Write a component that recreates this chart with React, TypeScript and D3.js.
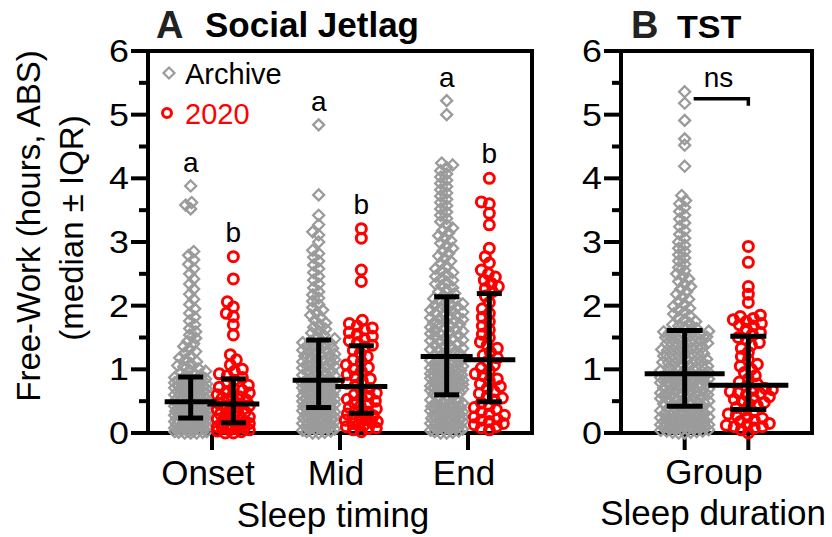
import React, { useEffect, useRef } from 'react'
import * as d3 from "d3";

const timingCats = ["Onset", "Mid", "End"];
const groups = ["Archive", "2020"];
const yTicks = [0, 1, 2, 3, 4, 5, 6];
const yMinorTicks = [0.5, 1.5, 2.5, 3.5, 4.5, 5.5];

// Social jetlag, archive cohort (hours, ABS)
const onsetArchive = [
    0.00, 0.00, 0.00, 0.01, 0.01, 0.02, 0.02, 0.03, 0.03, 0.04, 0.05, 0.05, 0.06, 0.06, 0.07, 0.08, 0.08, 0.09, 0.10, 0.10,
    0.11, 0.11, 0.12, 0.13, 0.13, 0.14, 0.15, 0.15, 0.16, 0.16, 0.17, 0.18, 0.18, 0.19, 0.20, 0.20, 0.21, 0.21, 0.22, 0.22,
    0.23, 0.23, 0.24, 0.24, 0.25, 0.26, 0.26, 0.27, 0.28, 0.28, 0.29, 0.29, 0.30, 0.31, 0.31, 0.32, 0.32, 0.33, 0.34, 0.34,
    0.35, 0.36, 0.36, 0.37, 0.38, 0.38, 0.39, 0.40, 0.40, 0.41, 0.42, 0.42, 0.43, 0.43, 0.44, 0.45, 0.45, 0.46, 0.46, 0.47,
    0.47, 0.48, 0.48, 0.49, 0.50, 0.51, 0.52, 0.52, 0.53, 0.54, 0.55, 0.56, 0.57, 0.57, 0.58, 0.59, 0.60, 0.61, 0.62, 0.62,
    0.63, 0.64, 0.65, 0.66, 0.67, 0.68, 0.69, 0.70, 0.70, 0.71, 0.72, 0.73, 0.74, 0.75, 0.76, 0.77, 0.78, 0.79, 0.80, 0.81,
    0.82, 0.83, 0.84, 0.85, 0.86, 0.87, 0.89, 0.91, 0.93, 0.95, 0.97, 0.99, 1.01, 1.04, 1.06, 1.09, 1.12, 1.15, 1.18, 1.21,
    1.25, 1.28, 1.32, 1.36, 1.40, 1.44, 1.49, 1.54, 1.59, 1.64, 1.70, 1.76, 1.82, 1.88, 1.95, 2.02, 2.10, 2.18, 2.26, 2.34,
    2.42, 2.50, 2.58, 2.65, 2.72, 2.79, 2.85, 3.52, 3.58, 3.62, 3.88
];
const midArchive = [
    0.00, 0.00, 0.01, 0.02, 0.03, 0.04, 0.05, 0.06, 0.07, 0.08, 0.09, 0.10, 0.11, 0.12, 0.13, 0.14, 0.15, 0.16, 0.17, 0.18,
    0.19, 0.20, 0.21, 0.22, 0.23, 0.24, 0.25, 0.26, 0.27, 0.28, 0.29, 0.30, 0.31, 0.32, 0.33, 0.34, 0.35, 0.36, 0.37, 0.38,
    0.39, 0.39, 0.41, 0.42, 0.43, 0.44, 0.45, 0.46, 0.47, 0.48, 0.49, 0.50, 0.51, 0.52, 0.53, 0.54, 0.55, 0.56, 0.57, 0.58,
    0.59, 0.60, 0.61, 0.62, 0.63, 0.64, 0.65, 0.66, 0.67, 0.68, 0.69, 0.70, 0.71, 0.72, 0.73, 0.74, 0.75, 0.76, 0.77, 0.78,
    0.79, 0.80, 0.81, 0.82, 0.84, 0.85, 0.87, 0.88, 0.90, 0.91, 0.93, 0.94, 0.96, 0.97, 0.99, 1.00, 1.02, 1.03, 1.05, 1.06,
    1.08, 1.09, 1.11, 1.12, 1.14, 1.15, 1.17, 1.18, 1.20, 1.21, 1.23, 1.24, 1.26, 1.27, 1.29, 1.30, 1.32, 1.33, 1.35, 1.36,
    1.38, 1.39, 1.41, 1.42, 1.44, 1.45, 1.48, 1.51, 1.54, 1.57, 1.60, 1.63, 1.66, 1.70, 1.73, 1.77, 1.81, 1.85, 1.89, 1.93,
    1.97, 2.02, 2.07, 2.12, 2.17, 2.22, 2.28, 2.34, 2.40, 2.46, 2.52, 2.58, 2.64, 2.70, 2.76, 2.82, 2.87, 3.00, 3.11, 3.16,
    3.27, 3.42, 3.74, 4.84
];
const endArchive = [
    0.00, 0.00, 0.01, 0.02, 0.03, 0.04, 0.05, 0.06, 0.07, 0.08, 0.09, 0.10, 0.11, 0.12, 0.13, 0.14, 0.15, 0.16, 0.17, 0.18,
    0.19, 0.20, 0.21, 0.22, 0.23, 0.24, 0.25, 0.26, 0.27, 0.28, 0.29, 0.30, 0.31, 0.32, 0.33, 0.34, 0.35, 0.36, 0.37, 0.38,
    0.39, 0.40, 0.41, 0.42, 0.43, 0.44, 0.45, 0.46, 0.47, 0.48, 0.50, 0.52, 0.54, 0.56, 0.58, 0.61, 0.62, 0.63, 0.64, 0.65,
    0.66, 0.67, 0.68, 0.69, 0.70, 0.71, 0.72, 0.73, 0.74, 0.75, 0.76, 0.77, 0.78, 0.79, 0.80, 0.81, 0.82, 0.83, 0.84, 0.85,
    0.86, 0.87, 0.88, 0.89, 0.90, 0.91, 0.92, 0.93, 0.94, 0.95, 0.96, 0.97, 0.98, 0.99, 1.00, 1.02, 1.03, 1.04, 1.05, 1.06,
    1.07, 1.08, 1.10, 1.11, 1.12, 1.13, 1.14, 1.16, 1.17, 1.19, 1.21, 1.23, 1.25, 1.26, 1.28, 1.30, 1.31, 1.33, 1.35, 1.36,
    1.38, 1.40, 1.41, 1.43, 1.45, 1.46, 1.48, 1.50, 1.51, 1.53, 1.55, 1.56, 1.58, 1.60, 1.61, 1.63, 1.65, 1.66, 1.68, 1.70,
    1.71, 1.73, 1.75, 1.76, 1.78, 1.80, 1.81, 1.83, 1.85, 1.86, 1.88, 1.90, 1.91, 1.93, 1.95, 1.96, 1.98, 2.00, 2.01, 2.03,
    2.05, 2.07, 2.09, 2.11, 2.13, 2.16, 2.19, 2.22, 2.25, 2.28, 2.31, 2.34, 2.37, 2.40, 2.43, 2.46, 2.49, 2.52, 2.55, 2.58,
    2.62, 2.66, 2.70, 2.74, 2.78, 2.82, 2.86, 2.90, 2.94, 2.98, 3.02, 3.06, 3.10, 3.14, 3.18, 3.22, 3.27, 3.32, 3.37, 3.42,
    3.47, 3.52, 3.57, 3.62, 3.67, 3.72, 3.77, 3.82, 3.87, 3.92, 3.97, 4.02, 4.07, 4.12, 4.17, 4.21, 4.24, 5.00, 5.22
];
// Social jetlag, 2020 cohort
const onset2020 = [
    0.00, 0.00, 0.02, 0.03, 0.05, 0.05, 0.07, 0.08, 0.08, 0.10, 0.12, 0.12, 0.13, 0.15, 0.15, 0.17,
    0.18, 0.20, 0.22, 0.23, 0.25, 0.27, 0.28, 0.30, 0.32, 0.33, 0.35, 0.37, 0.40, 0.42, 0.43, 0.45,
    0.47, 0.48, 0.50, 0.52, 0.55, 0.57, 0.58, 0.60, 0.63, 0.65, 0.67, 0.70, 0.72, 0.75, 0.78, 0.83,
    0.87, 0.90, 0.93, 0.97, 1.00, 1.07, 1.15, 1.23, 1.54, 1.70, 1.83, 1.88, 1.98, 2.06, 2.42, 2.77
];
const mid2020 = [
    0.02, 0.05, 0.07, 0.08, 0.10, 0.12, 0.13, 0.15, 0.17, 0.18, 0.20, 0.22, 0.23, 0.25, 0.27, 0.30,
    0.32, 0.33, 0.35, 0.38, 0.40, 0.42, 0.45, 0.47, 0.50, 0.53, 0.55, 0.58, 0.60, 0.63, 0.67, 0.70,
    0.75, 0.78, 0.82, 0.85, 0.88, 0.92, 0.97, 1.00, 1.03, 1.07, 1.12, 1.15, 1.20, 1.25, 1.30, 1.35,
    1.38, 1.42, 1.45, 1.48, 1.52, 1.55, 1.58, 1.62, 1.65, 1.68, 1.72, 1.77, 2.38, 2.56, 3.06, 3.21
];
const end2020 = [
    0.05, 0.08, 0.10, 0.13, 0.15, 0.18, 0.20, 0.22, 0.25, 0.28, 0.30, 0.33, 0.37, 0.40, 0.43, 0.47,
    0.52, 0.55, 0.58, 0.62, 0.65, 0.70, 0.73, 0.77, 0.82, 0.85, 0.90, 0.93, 0.98, 1.02, 1.07, 1.12,
    1.18, 1.22, 1.27, 1.33, 1.38, 1.43, 1.50, 1.55, 1.62, 1.68, 1.75, 1.82, 1.88, 1.95, 2.05, 2.15,
    2.22, 2.27, 2.30, 2.35, 2.40, 2.45, 2.50, 2.56, 2.67, 2.77, 2.90, 3.27, 3.45, 3.60, 3.63, 4.00
];
// TST (sleep duration)
const tstArchive = [
    0.00, 0.00, 0.01, 0.01, 0.02, 0.03, 0.03, 0.04, 0.05, 0.05, 0.06, 0.07, 0.08, 0.08, 0.09, 0.10, 0.10, 0.11, 0.12, 0.13,
    0.13, 0.14, 0.15, 0.15, 0.16, 0.17, 0.18, 0.18, 0.19, 0.20, 0.20, 0.21, 0.22, 0.23, 0.23, 0.24, 0.25, 0.25, 0.26, 0.27,
    0.28, 0.28, 0.29, 0.30, 0.31, 0.31, 0.32, 0.33, 0.34, 0.35, 0.36, 0.37, 0.38, 0.39, 0.41, 0.43, 0.44, 0.45, 0.46, 0.47,
    0.48, 0.49, 0.50, 0.51, 0.52, 0.53, 0.54, 0.55, 0.56, 0.57, 0.58, 0.59, 0.60, 0.61, 0.62, 0.63, 0.64, 0.65, 0.66, 0.67,
    0.68, 0.69, 0.70, 0.71, 0.72, 0.73, 0.74, 0.75, 0.76, 0.77, 0.78, 0.79, 0.80, 0.81, 0.82, 0.83, 0.84, 0.85, 0.85, 0.86,
    0.87, 0.87, 0.88, 0.89, 0.89, 0.90, 0.90, 0.91, 0.91, 0.92, 0.94, 0.95, 0.96, 0.98, 0.99, 1.00, 1.01, 1.03, 1.04, 1.05,
    1.06, 1.08, 1.09, 1.10, 1.11, 1.13, 1.14, 1.15, 1.16, 1.18, 1.19, 1.20, 1.21, 1.23, 1.24, 1.25, 1.26, 1.28, 1.29, 1.30,
    1.31, 1.33, 1.34, 1.35, 1.36, 1.38, 1.39, 1.40, 1.41, 1.43, 1.44, 1.45, 1.46, 1.48, 1.49, 1.50, 1.51, 1.53, 1.54, 1.55,
    1.56, 1.57, 1.58, 1.59, 1.60, 1.62, 1.64, 1.66, 1.68, 1.70, 1.72, 1.75, 1.78, 1.81, 1.84, 1.87, 1.90, 1.93, 1.96, 1.99,
    2.02, 2.06, 2.10, 2.14, 2.18, 2.22, 2.26, 2.30, 2.34, 2.38, 2.42, 2.46, 2.50, 2.55, 2.60, 2.65, 2.70, 2.75, 2.80, 2.85,
    2.90, 2.95, 3.00, 3.06, 3.12, 3.18, 3.24, 3.30, 3.36, 3.42, 3.48, 3.54, 3.60, 3.65, 3.73, 4.19, 4.52, 4.62, 4.91, 5.18,
    5.36
];
const tst2020 = [
    0.00, 0.05, 0.08, 0.10, 0.10, 0.12, 0.13, 0.15, 0.18, 0.20, 0.23, 0.25, 0.28, 0.30, 0.33, 0.36,
    0.40, 0.43, 0.45, 0.48, 0.50, 0.53, 0.55, 0.57, 0.60, 0.62, 0.63, 0.65, 0.67, 0.68, 0.70, 0.73,
    0.77, 0.80, 0.85, 0.90, 0.95, 1.00, 1.05, 1.08, 1.15, 1.20, 1.27, 1.33, 1.38, 1.42, 1.47, 1.50,
    1.55, 1.58, 1.63, 1.68, 1.70, 1.72, 1.75, 1.78, 1.80, 1.83, 1.85, 2.05, 2.18, 2.30, 2.68, 2.93
];

// median and IQR of each column
const archiveMedian = [0.49, 0.83, 1.20];
const archiveQ1 = [0.235, 0.40, 0.60];
const archiveQ3 = [0.88, 1.46, 2.14];
const recentMedian = [0.455, 0.73, 1.15];
const recentQ1 = [0.16, 0.31, 0.49];
const recentQ3 = [0.85, 1.37, 2.19];
const tstMedian = [0.93, 0.75];
const tstQ1 = [0.42, 0.37];
const tstQ3 = [1.61, 1.52];

const sigLetters = [["a", "b"], ["a", "b"], ["a", "b"]];
const nsBracketValue = 5.25;

const font = "'Liberation Sans', Arial, Helvetica, sans-serif";
const grey = "#9b9b9b";
const red = "#ff0000";

export default function App() {
    let ref = useRef(null);

    var y = d3.scaleLinear().domain([0, 6]).range([433, 51]);
    var xA = d3.scaleBand().domain(timingCats).range([148, 532]);
    var subA = d3.scalePoint().domain(groups).range([0, xA.bandwidth()]).padding(1);
    var xB = d3.scalePoint().domain(groups).range([621, 812]).padding(1);

    //simple beeswarm: place each point as close to the column centre as it can go
    function swarm(values, cx, halfW, d) {
        var pts = values.map(v => ({ v: v, py: y(v), px: cx })).sort((a, b) => b.py - a.py);
        var placed = [];
        pts.forEach(p => {
            var near = placed.filter(q => Math.abs(q.py - p.py) < d);
            var best = 0, bestScore = -1;
            for (let k = 0; k <= 2 * halfW; k++) {
                var o = (k % 2 === 0 ? 1 : -1) * Math.ceil(k / 2);
                var m = Infinity;
                near.forEach(q => {
                    var dist = Math.hypot(q.px - (cx + o), q.py - p.py);
                    if (dist < m) m = dist;
                });
                if (m >= d) { best = o; break; }
                if (m > bestScore) { bestScore = m; best = o; }
            }
            p.px = cx + best;
            placed.push(p);
        });
        return pts;
    }

    useEffect(() => {
        document.body.style.margin = "0";
        var root = d3.select(ref.current);
        root.selectAll("*").remove();

        var svg = root.append("svg")
            .attr("width", 832)
            .attr("height", 537)
            .style("display", "block")
            .style("font-family", font);

        function txt(x, yy, s, size, opts = {}) {
            return svg.append("text")
                .attr("transform", "translate(" + x + "," + yy + ")" + (opts.rotate ? " rotate(" + opts.rotate + ")" : "") + " scale(" + (opts.sx || 1) + ",1)")
                .attr("font-size", size)
                .attr("text-anchor", opts.anchor || "start")
                .attr("font-weight", opts.weight || "normal")
                .attr("fill", opts.fill || "#000")
                .text(s);
        }

        //Frames, ticks and tick labels for both panels
        function frame(x0, x1, xticks) {
            svg.append("rect")
                .attr("x", x0).attr("y", y(6))
                .attr("width", x1 - x0).attr("height", y(0) - y(6))
                .attr("fill", "none").attr("stroke", "#000").attr("stroke-width", 4);
            yTicks.forEach(t => {
                svg.append("line").attr("x1", x0 - 17).attr("x2", x0).attr("y1", y(t)).attr("y2", y(t))
                    .attr("stroke", "#000").attr("stroke-width", 4);
                txt(x0 - 19, y(t) + 11, t, 32, { anchor: "end", sx: 1.12 });
            });
            yMinorTicks.forEach(t => {
                svg.append("line").attr("x1", x0 - 9).attr("x2", x0).attr("y1", y(t)).attr("y2", y(t))
                    .attr("stroke", "#000").attr("stroke-width", 4);
            });
            xticks.forEach(x => {
                svg.append("line").attr("x1", x).attr("x2", x).attr("y1", y(0)).attr("y2", y(0) + 17)
                    .attr("stroke", "#000").attr("stroke-width", 4);
            });
        }
        frame(148, 532, timingCats.map(c => xA(c) + xA.bandwidth() / 2));
        frame(621, 812, groups.map(g => xB(g)));

        var diamond = "M0,-5.5L5.5,0L0,5.5L-5.5,0Z";

        function drawArchive(values, cx, halfW) {
            var pts = swarm(values, cx, halfW, 6);
            svg.append("g").selectAll("path")
                .data(pts)
                .enter().append("path")
                .attr("d", diamond)
                .attr("transform", d => "translate(" + d.px + "," + d.py + ")")
                .attr("fill", "none")
                .attr("stroke", grey)
                .attr("stroke-width", 2.3);
        }
        function draw2020(values, cx, halfW) {
            var pts = swarm(values, cx, halfW, 7.5);
            svg.append("g").selectAll("circle")
                .data(pts)
                .enter().append("circle")
                .attr("cx", d => d.px)
                .attr("cy", d => d.py)
                .attr("r", 5)
                .attr("fill", "none")
                .attr("stroke", red)
                .attr("stroke-width", 3);
        }
        function iqrBar(cx, med, q1, q3, medW, capW) {
            var g = svg.append("g").attr("stroke", "#000").attr("stroke-width", 5);
            g.append("line").attr("x1", cx).attr("x2", cx).attr("y1", y(q1)).attr("y2", y(q3));
            g.append("line").attr("x1", cx - capW / 2).attr("x2", cx + capW / 2).attr("y1", y(q1)).attr("y2", y(q1));
            g.append("line").attr("x1", cx - capW / 2).attr("x2", cx + capW / 2).attr("y1", y(q3)).attr("y2", y(q3));
            g.append("line").attr("x1", cx - medW / 2).attr("x2", cx + medW / 2).attr("y1", y(med)).attr("y2", y(med));
        }

        //Panel A
        var archiveSets = [onsetArchive, midArchive, endArchive];
        var recentSets = [onset2020, mid2020, end2020];
        var bars = [];
        timingCats.forEach((c, i) => {
            var cxA = xA(c) + subA("Archive");
            var cxR = xA(c) + subA("2020");
            drawArchive(archiveSets[i], cxA, 16);
            bars.push([cxA, archiveMedian[i], archiveQ1[i], archiveQ3[i]]);
            bars.push([cxR, recentMedian[i], recentQ1[i], recentQ3[i]]);
        });
        timingCats.forEach((c, i) => {
            draw2020(recentSets[i], xA(c) + subA("2020"), 16);
        });
        bars.forEach(b => iqrBar(b[0], b[1], b[2], b[3], 52, 25));

        //letters above columns
        timingCats.forEach((c, i) => {
            txt(xA(c) + subA("Archive"), y(d3.max(archiveSets[i])) - 14, sigLetters[i][0], 28, { anchor: "middle" });
            txt(xA(c) + subA("2020"), y(d3.max(recentSets[i])) - 15, sigLetters[i][1], 28, { anchor: "middle" });
        });

        //Panel B
        drawArchive(tstArchive, xB("Archive"), 24);
        draw2020(tst2020, xB("2020"), 24);
        iqrBar(xB("Archive"), tstMedian[0], tstQ1[0], tstQ3[0], 80, 36);
        iqrBar(xB("2020"), tstMedian[1], tstQ1[1], tstQ3[1], 80, 36);

        svg.append("path")
            .attr("d", "M" + (xB("Archive") + 9) + "," + y(nsBracketValue) + "H" + xB("2020") + "V" + (y(nsBracketValue) + 7))
            .attr("fill", "none").attr("stroke", "#000").attr("stroke-width", 3.5);
        txt((xB("Archive") + xB("2020")) / 2 + 2, y(nsBracketValue) - 12, "ns", 28, { anchor: "middle" });

        //Legend
        svg.append("path").attr("d", diamond).attr("transform", "translate(169,73)")
            .attr("fill", "none").attr("stroke", grey).attr("stroke-width", 2.2);
        txt(185, 84, "Archive", 29);
        svg.append("circle").attr("cx", 167).attr("cy", 113).attr("r", 4.5)
            .attr("fill", "none").attr("stroke", red).attr("stroke-width", 3);
        txt(185, 124, "2020", 29, { fill: red });

        //Titles
        txt(156, 38, "A", 38, { weight: "bold", fill: "#222" });
        txt(205, 37, "Social Jetlag", 35, { weight: "bold" });
        txt(631, 38, "B", 38, { weight: "bold", fill: "#222" });
        txt(677, 38, "TST", 31, { weight: "bold", sx: 1.1 });

        //Axis titles
        txt(40, 226, "Free-Work (hours, ABS)", 33, { anchor: "middle", rotate: -90 });
        txt(83, 228, "(median \u00B1 IQR)", 33, { anchor: "middle", rotate: -90 });
        timingCats.forEach(c => txt(xA(c) + xA.bandwidth() / 2 - 4, 485, c, 35, { anchor: "middle" }));
        txt(333, 527, "Sleep timing", 35, { anchor: "middle" });
        txt(714, 484, "Group", 35, { anchor: "middle" });
        txt(713, 525, "Sleep duration", 35, { anchor: "middle" });
    }, [])

    return (
        <div ref={ref}></div>
    );
}
